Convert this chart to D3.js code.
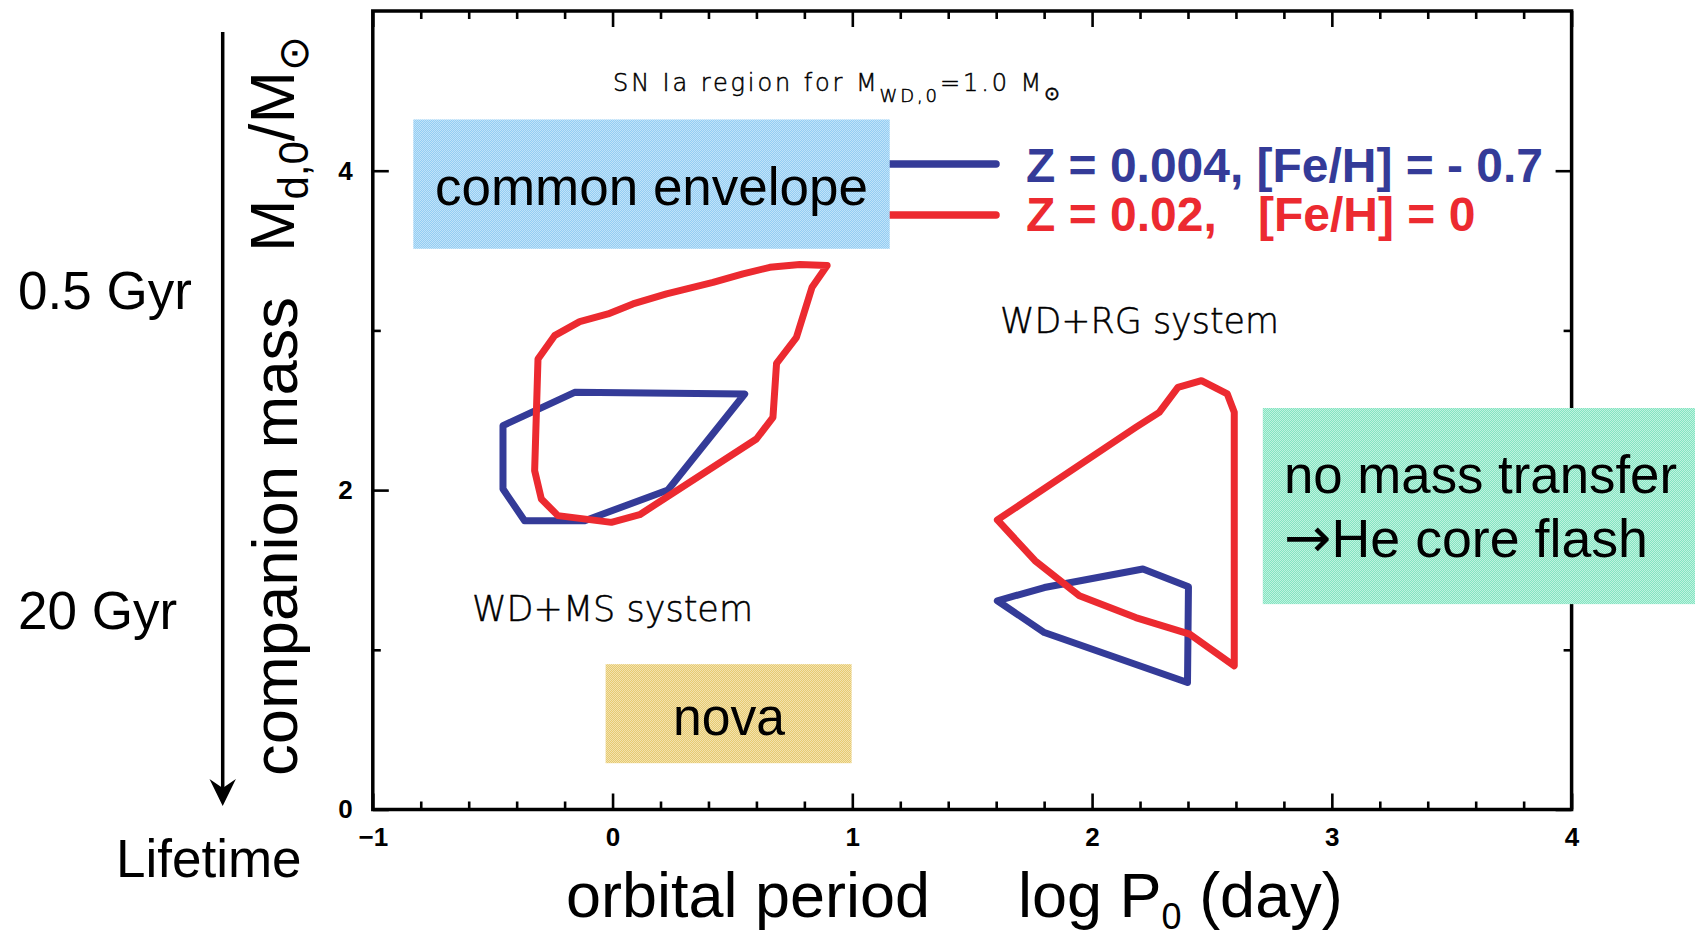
<!DOCTYPE html>
<html>
<head>
<meta charset="utf-8">
<script src="https://cdn.jsdelivr.net/npm/d3@7"></script>
<style>
  html, body { margin: 0; padding: 0; background: #ffffff; }
  svg { display: block; }
</style>
</head>
<body>
<script>
// Axis ticks and labels
const xMajorTicks = [-1, 0, 1, 2, 3, 4];
const xTickLabels = ["\u22121", "0", "1", "2", "3", "4"];
const yMajorTicks = [0, 2, 4];
const yTickLabels = ["0", "2", "4"];
const yMinorTicks = [1, 3];

// SN Ia regions: [log P0 (day), M_d,0 / M_sun]
// WD+MS channel, Z = 0.02
const wdmsSolar = [
  [0.895, 3.406], [0.832, 3.270], [0.767, 2.957], [0.684, 2.794], [0.669, 2.456],
  [0.600, 2.320], [0.113, 1.846], [-0.005, 1.798], [-0.228, 1.840], [-0.297, 1.944],
  [-0.325, 2.122], [-0.311, 2.821], [-0.242, 2.967], [-0.137, 3.055], [-0.019, 3.103],
  [0.085, 3.166], [0.225, 3.229], [0.419, 3.301], [0.544, 3.354], [0.656, 3.395],
  [0.781, 3.412]
];
// WD+MS channel, Z = 0.004
const wdmsLowZ = [
  [0.551, 2.602], [-0.158, 2.612], [-0.457, 2.404], [-0.457, 2.007],
  [-0.367, 1.808], [-0.116, 1.808], [0.231, 2.001]
];
// WD+RG channel, Z = 0.02
const wdrgSolar = [
  [1.605, 1.813], [1.762, 1.558], [1.947, 1.338], [2.182, 1.202], [2.407, 1.098],
  [2.593, 0.900], [2.593, 2.487], [2.564, 2.602], [2.456, 2.685], [2.358, 2.643],
  [2.280, 2.487], [2.182, 2.393]
];
// WD+RG channel, Z = 0.004
const wdrgLowZ = [
  [1.605, 1.307], [1.801, 1.390], [2.212, 1.506], [2.402, 1.395],
  [2.398, 0.795], [1.801, 1.108]
];

const W = 1695, H = 936;
const BLUE = "#343b98", RED = "#ec2a30";
const SANS = "'Liberation Sans', Arial, Helvetica, sans-serif";
const THIN = "'DejaVu Sans', 'Liberation Sans', sans-serif";

const svg = d3.select("body").append("svg")
  .attr("width", W).attr("height", H)
  .attr("viewBox", `0 0 ${W} ${H}`);

const x = d3.scaleLinear().domain([-1, 4]).range([372.8, 1571.6]);
const y = d3.scaleLinear().domain([0, 5]).range([809.5, 11]);

// dithered fills for the labelled zones
const defs = svg.append("defs");
function dither(id, c1, c2) {
  const p = defs.append("pattern").attr("id", id)
    .attr("width", 2).attr("height", 2)
    .attr("patternUnits", "userSpaceOnUse");
  p.append("rect").attr("width", 2).attr("height", 2).attr("fill", c1);
  p.append("rect").attr("width", 1).attr("height", 1).attr("fill", c2);
  p.append("rect").attr("x", 1).attr("y", 1).attr("width", 1).attr("height", 1).attr("fill", c2);
}
dither("fillCE", "#94cdf3", "#c1e3f9");
dither("fillNova", "#e6ca72", "#f4e3ae");
dither("fillFlash", "#84e4c2", "#bff3df");

// ---- axes ----
const minorX = d3.range(-1, 4.0001, 0.2).map(v => +v.toFixed(1)).filter(v => Math.abs(v - Math.round(v)) > 1e-6);
const axesG = svg.append("g").attr("class", "axes");

function styleAxis(g) {
  g.select(".domain").remove();
  g.selectAll(".tick line").attr("stroke", "#000").attr("stroke-width", 2.6);
  g.selectAll(".tick text")
    .attr("font-family", SANS).attr("font-weight", "bold")
    .attr("font-size", 26).attr("fill", "#000");
}

// bottom
axesG.append("g").attr("transform", `translate(0,${y(0)})`)
  .call(d3.axisBottom(x).tickValues(xMajorTicks).tickSizeInner(-16).tickSizeOuter(0)
    .tickPadding(18).tickFormat((d, i) => xTickLabels[i]))
  .call(styleAxis);
axesG.append("g").attr("transform", `translate(0,${y(0)})`)
  .call(d3.axisBottom(x).tickValues(minorX).tickSizeInner(-8).tickSizeOuter(0).tickFormat(""))
  .call(styleAxis);
// top
axesG.append("g").attr("transform", `translate(0,${y(5)})`)
  .call(d3.axisTop(x).tickValues(xMajorTicks).tickSizeInner(-16).tickSizeOuter(0).tickFormat(""))
  .call(styleAxis);
axesG.append("g").attr("transform", `translate(0,${y(5)})`)
  .call(d3.axisTop(x).tickValues(minorX).tickSizeInner(-8).tickSizeOuter(0).tickFormat(""))
  .call(styleAxis);
// left
axesG.append("g").attr("transform", `translate(${x(-1)},0)`)
  .call(d3.axisLeft(y).tickValues(yMajorTicks).tickSizeInner(-16).tickSizeOuter(0)
    .tickPadding(20).tickFormat((d, i) => yTickLabels[i]))
  .call(styleAxis);
axesG.append("g").attr("transform", `translate(${x(-1)},0)`)
  .call(d3.axisLeft(y).tickValues(yMinorTicks).tickSizeInner(-8).tickSizeOuter(0).tickFormat(""))
  .call(styleAxis);
// right
axesG.append("g").attr("transform", `translate(${x(4)},0)`)
  .call(d3.axisRight(y).tickValues(yMajorTicks).tickSizeInner(-16).tickSizeOuter(0).tickFormat(""))
  .call(styleAxis);
axesG.append("g").attr("transform", `translate(${x(4)},0)`)
  .call(d3.axisRight(y).tickValues(yMinorTicks).tickSizeInner(-8).tickSizeOuter(0).tickFormat(""))
  .call(styleAxis);

// frame
axesG.append("rect")
  .attr("x", x(-1)).attr("y", y(5))
  .attr("width", x(4) - x(-1)).attr("height", y(0) - y(5))
  .attr("fill", "none").attr("stroke", "#000").attr("stroke-width", 3.5);

// ---- SN Ia regions ----
const line = d3.line().x(d => x(d[0])).y(d => y(d[1])).curve(d3.curveLinearClosed);
const regions = [
  { pts: wdmsLowZ, color: BLUE },
  { pts: wdrgLowZ, color: BLUE },
  { pts: wdmsSolar, color: RED },
  { pts: wdrgSolar, color: RED }
];
svg.append("g").selectAll("path").data(regions).join("path")
  .attr("d", d => line(d.pts))
  .attr("fill", "none")
  .attr("stroke", d => d.color)
  .attr("stroke-width", 7)
  .attr("stroke-linejoin", "round");

// ---- legend ----
const legend = svg.append("g");
legend.append("line").attr("x1", 870).attr("x2", 996).attr("y1", 164).attr("y2", 164)
  .attr("stroke", BLUE).attr("stroke-width", 7.5).attr("stroke-linecap", "round");
legend.append("line").attr("x1", 870).attr("x2", 996).attr("y1", 215).attr("y2", 215)
  .attr("stroke", RED).attr("stroke-width", 7.5).attr("stroke-linecap", "round");
legend.append("text").attr("x", 1026).attr("y", 182)
  .attr("font-family", SANS).attr("font-weight", "bold").attr("font-size", 48)
  .attr("fill", BLUE).attr("textLength", 517).attr("lengthAdjust", "spacingAndGlyphs")
  .text("Z = 0.004, [Fe/H] = - 0.7");
legend.append("text").attr("x", 1026).attr("y", 231)
  .attr("font-family", SANS).attr("font-weight", "bold").attr("font-size", 48)
  .attr("fill", RED).text("Z = 0.02,");
legend.append("text").attr("x", 1258).attr("y", 231)
  .attr("font-family", SANS).attr("font-weight", "bold").attr("font-size", 48)
  .attr("fill", RED).text("[Fe/H] = 0");

// ---- zone boxes ----
const zones = [
  { x0: -0.831, x1: 1.156, y0: 3.511, y1: 4.321, fill: "url(#fillCE)" },
  { x0: -0.029, x1: 0.997, y0: 0.290, y1: 0.910, fill: "url(#fillNova)" },
  { x0: 2.712, x1: 4.6, y0: 1.286, y1: 2.514, fill: "url(#fillFlash)" }
];
svg.append("g").selectAll("rect").data(zones).join("rect")
  .attr("x", d => x(d.x0)).attr("y", d => y(d.y1))
  .attr("width", d => x(d.x1) - x(d.x0)).attr("height", d => y(d.y0) - y(d.y1))
  .attr("fill", d => d.fill);

const big = svg.append("g").attr("font-family", SANS).attr("fill", "#000").attr("font-size", 53);
big.append("text").attr("x", 435).attr("y", 205).attr("font-size", 54)
  .attr("textLength", 433).attr("lengthAdjust", "spacingAndGlyphs").text("common envelope");
big.append("text").attr("x", 673).attr("y", 735)
  .attr("textLength", 112).attr("lengthAdjust", "spacingAndGlyphs").text("nova");
big.append("text").attr("x", 1284).attr("y", 493)
  .attr("textLength", 393).attr("lengthAdjust", "spacingAndGlyphs").text("no mass transfer");
const flash = big.append("text").attr("x", 1284).attr("y", 557)
  .attr("textLength", 364).attr("lengthAdjust", "spacingAndGlyphs");
flash.append("tspan").attr("font-family", THIN).attr("font-size", 56).text("\u2192");
flash.append("tspan").text("He core flash");

// lifetime scale on the left
big.append("text").attr("x", 18).attr("y", 309).text("0.5 Gyr");
big.append("text").attr("x", 18).attr("y", 629).text("20 Gyr");
big.append("text").attr("x", 116).attr("y", 877).text("Lifetime");
svg.append("line").attr("x1", 222.7).attr("x2", 222.7).attr("y1", 32).attr("y2", 795)
  .attr("stroke", "#000").attr("stroke-width", 3.5);
svg.append("path")
  .attr("d", "M222.7,806 L209.5,779 L222.7,788 L235.9,779 Z")
  .attr("fill", "#000");

// ---- thin annotation labels ----
const thin = svg.append("g").attr("font-family", THIN).attr("font-weight", 200)
  .attr("fill", "#000").attr("stroke", "#000").attr("stroke-width", 0.5);
const sn = thin.append("text").attr("x", 613).attr("y", 91).attr("font-size", 24)
  .attr("textLength", 447).attr("lengthAdjust", "spacing");
sn.append("tspan").text("SN Ia region for M");
sn.append("tspan").attr("font-size", 18).attr("dy", 11).text("WD,0");
sn.append("tspan").attr("dy", -11).text("=1.0 M");
sn.append("tspan").attr("font-size", 19).attr("dy", 9).text("\u2299");

thin.append("text").attr("x", 1000).attr("y", 333).attr("font-size", 36)
  .attr("textLength", 279).attr("lengthAdjust", "spacingAndGlyphs").text("WD+RG system");
thin.append("text").attr("x", 472).attr("y", 621).attr("font-size", 36)
  .attr("textLength", 281).attr("lengthAdjust", "spacingAndGlyphs").text("WD+MS system");

// ---- axis titles ----
const xt = svg.append("g").attr("font-family", SANS).attr("font-size", 63).attr("fill", "#000");
xt.append("text").attr("x", 566).attr("y", 917)
  .attr("textLength", 364).attr("lengthAdjust", "spacingAndGlyphs").text("orbital period");
const lp = xt.append("text").attr("x", 1018).attr("y", 917);
lp.append("tspan").text("log P");
lp.append("tspan").attr("font-size", 36).attr("dy", 12).text("0");
lp.append("tspan").attr("dy", -12).text(" (day)");

const yt = svg.append("g").attr("font-family", SANS).attr("font-size", 63).attr("fill", "#000")
  .attr("transform", "translate(297,0) rotate(-90)");
yt.append("text").attr("x", -776).attr("y", 0)
  .attr("textLength", 479).attr("lengthAdjust", "spacingAndGlyphs").text("companion mass");
const ym = yt.append("text").attr("x", -252).attr("y", -3);
ym.append("tspan").text("M");
ym.append("tspan").attr("font-size", 42).attr("dy", 14).text("d,0");
ym.append("tspan").attr("dy", -14).text("/M");
ym.append("tspan").attr("font-size", 42).attr("dy", 14).text("\u2299");
</script>
</body>
</html>
